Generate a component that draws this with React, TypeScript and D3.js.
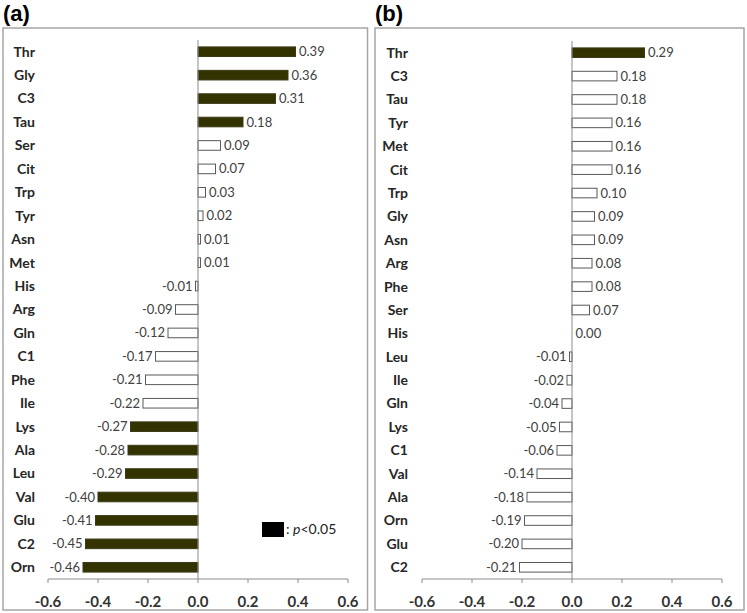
import React from "react";
import * as d3 from "d3";

const catsA = ["Thr","Gly","C3","Tau","Ser","Cit","Trp","Tyr","Asn","Met","His","Arg","Gln","C1","Phe","Ile","Lys","Ala","Leu","Val","Glu","C2","Orn"];
const valsA = [0.39,0.36,0.31,0.18,0.09,0.07,0.03,0.02,0.01,0.01,-0.01,-0.09,-0.12,-0.17,-0.21,-0.22,-0.27,-0.28,-0.29,-0.40,-0.41,-0.45,-0.46];
const sigA = [1,1,1,1,0,0,0,0,0,0,0,0,0,0,0,0,1,1,1,1,1,1,1];

const catsB = ["Thr","C3","Tau","Tyr","Met","Cit","Trp","Gly","Asn","Arg","Phe","Ser","His","Leu","Ile","Gln","Lys","C1","Val","Ala","Orn","Glu","C2"];
const valsB = [0.29,0.18,0.18,0.16,0.16,0.16,0.10,0.09,0.09,0.08,0.08,0.07,0.00,-0.01,-0.02,-0.04,-0.05,-0.06,-0.14,-0.18,-0.19,-0.20,-0.21];
const sigB = [1,0,0,0,0,0,0,0,0,0,0,0,0,0,0,0,0,0,0,0,0,0,0];

const ticks = [-0.6,-0.4,-0.2,0.0,0.2,0.4,0.6];

const FONT = "Lato, 'Open Sans', sans-serif";
const BAR = "#333300";
const hy = (s: string) => s.replace("\u2212", "-");

type PanelProps = {
  title: string;
  cats: string[];
  vals: number[];
  sig: number[];
  frame: [number, number, number, number];
  xr: [number, number];
  yr: [number, number];
  labelX: number;
  legend?: boolean;
};

function Panel({ title, cats, vals, sig, frame, xr, yr, labelX, legend }: PanelProps) {
  const x = d3.scaleLinear().domain([-0.6, 0.6]).range(xr);
  const y = d3.scaleBand<string>().domain(cats).range(yr).paddingInner(0.59).paddingOuter(0.295);
  const fmt = d3.format(".2f");
  const axisY = yr[1];
  const [fx0, fy0, fx1, fy1] = frame;
  return (
    <g>
      <text x={fx0} y={21} fontFamily="'Liberation Sans', Arial, sans-serif" fontWeight="bold" fontSize={22} fill="#000">{title}</text>
      <rect x={fx0} y={fy0} width={fx1 - fx0} height={fy1 - fy0} fill="white" stroke="#a6a6a6" strokeWidth={1.5} />
      {cats.map((c, i) => {
        const v = vals[i];
        const x0 = Math.min(x(0), x(v));
        const w = Math.abs(x(v) - x(0));
        const yy = y(c)!;
        const cy = yy + y.bandwidth() / 2;
        return (
          <g key={c}>
            <rect x={x0} y={yy} width={w} height={y.bandwidth()}
              fill={sig[i] ? BAR : "white"} stroke={sig[i] ? "#3b3b1a" : "#595959"} strokeWidth={1} />
            <text x={v >= 0 ? x(v) + 3.5 : x(v) - 3} y={cy} dy="0.35em"
              textAnchor={v >= 0 ? "start" : "end"} fontFamily={FONT} fontSize={13} fill="#404040">{hy(fmt(v))}</text>
            <text x={labelX} y={cy} dy="0.35em" textAnchor="end" fontFamily={FONT} fontWeight="bold" fontSize={14} fill="#262626">{c}</text>
          </g>
        );
      })}
      <line x1={x(0)} x2={x(0)} y1={yr[0]} y2={axisY} stroke="#8c8c8c" strokeWidth={1} />
      <line x1={xr[0]} x2={xr[1]} y1={axisY} y2={axisY} stroke="#8c8c8c" strokeWidth={1} />
      {ticks.map((t) => (
        <g key={t}>
          <line x1={x(t)} x2={x(t)} y1={axisY} y2={axisY + 4} stroke="#8c8c8c" strokeWidth={1} />
          <text x={x(t)} y={axisY + 23} dy="0.35em" textAnchor="middle" fontFamily={FONT} fontWeight="bold" fontSize={15} fill="#333">{hy(d3.format(".1f")(t))}</text>
        </g>
      ))}
      {legend && (
        <g>
          <rect x={262} y={522} width={22} height={15} fill="#000" />
          <text x={286} y={529.5} dy="0.35em" fontFamily={FONT} fontSize={14} fill="#222">
            : <tspan fontStyle="italic">p</tspan>&lt;0.05
          </text>
        </g>
      )}
    </g>
  );
}

export default function App() {
  return (
    <svg width={747} height={613} style={{ position: "absolute", left: 0, top: 0, background: "white" }}>
      <rect x={0} y={0} width={747} height={613} fill="white" />
      <Panel title="(a)" cats={catsA} vals={valsA} sig={sigA} frame={[3, 28, 367.5, 610]} xr={[48, 348]} yr={[40, 579]} labelX={35} legend />
      <Panel title="(b)" cats={catsB} vals={valsB} sig={sigB} frame={[375, 28, 744, 610]} xr={[422, 722]} yr={[41, 579]} labelX={408} />
    </svg>
  );
}
